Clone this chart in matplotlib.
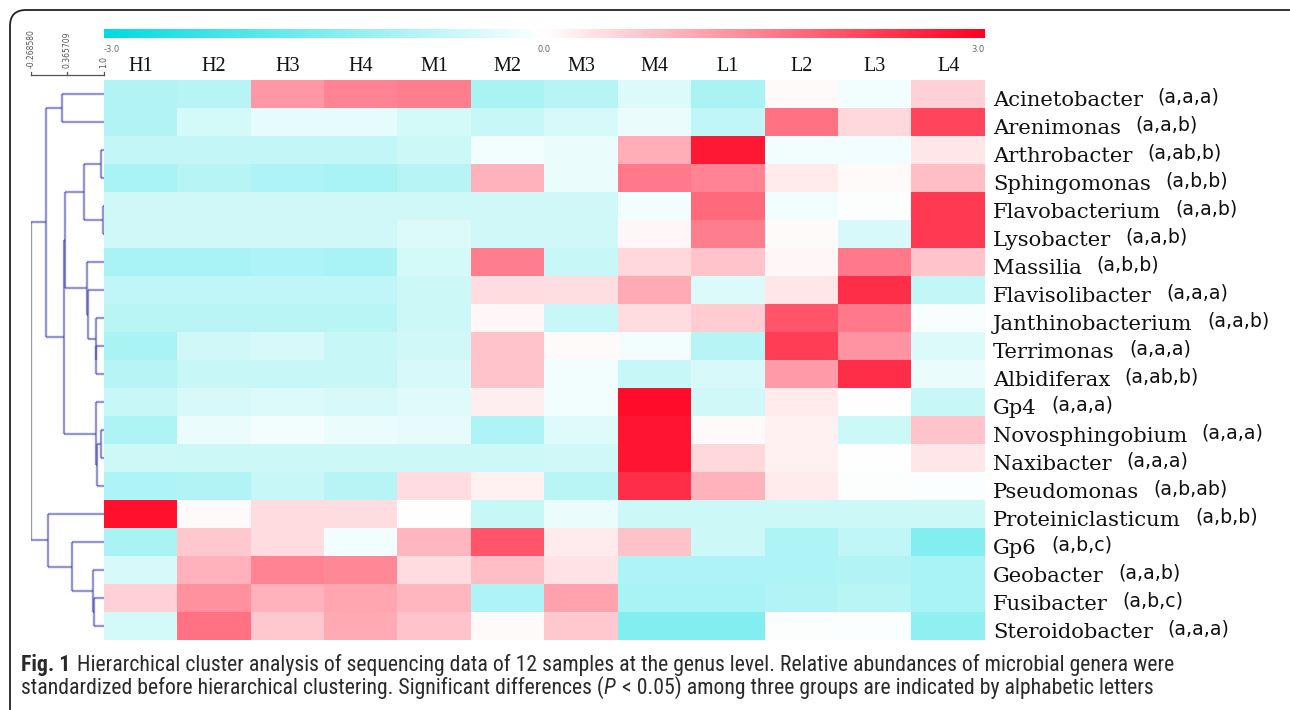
import numpy as np
import matplotlib
matplotlib.use("Agg")
import matplotlib.pyplot as plt
from matplotlib.colors import LinearSegmentedColormap
from matplotlib.collections import LineCollection
from matplotlib.patches import FancyBboxPatch
from matplotlib.transforms import Affine2D
from matplotlib import font_manager

W, H = 1290, 710

# ---- data -------------------------------------------------------------
samples = ["H1", "H2", "H3", "H4", "M1", "M2", "M3", "M4", "L1", "L2", "L3", "L4"]

genera = ["Acinetobacter", "Arenimonas", "Arthrobacter", "Sphingomonas",
          "Flavobacterium", "Lysobacter", "Massilia", "Flavisolibacter",
          "Janthinobacterium", "Terrimonas", "Albidiferax", "Gp4",
          "Novosphingobium", "Naxibacter", "Pseudomonas", "Proteiniclasticum",
          "Gp6", "Geobacter", "Fusibacter", "Steroidobacter"]

letters = ["(a,a,a)", "(a,a,b)", "(a,ab,b)", "(a,b,b)", "(a,a,b)", "(a,a,b)",
           "(a,b,b)", "(a,a,a)", "(a,a,b)", "(a,a,a)", "(a,ab,b)", "(a,a,a)",
           "(a,a,a)", "(a,a,a)", "(a,b,ab)", "(a,b,b)", "(a,b,c)", "(a,a,b)",
           "(a,b,c)", "(a,a,a)"]

# standardized relative abundance (z-score), rows follow `genera`
zscore = np.array([
    [-0.90, -0.85, 1.20, 1.45, 1.50, -1.00, -0.85, -0.40, -1.00, 0.05, -0.15, 0.55],
    [-0.90, -0.50, -0.30, -0.30, -0.50, -0.65, -0.45, -0.25, -0.75, 1.65, 0.45, 2.20],
    [-0.70, -0.70, -0.70, -0.70, -0.60, -0.15, -0.25, 0.95, 2.70, -0.15, -0.15, 0.30],
    [-1.00, -0.85, -0.95, -1.00, -0.85, 0.90, -0.25, 1.55, 1.45, 0.25, 0.05, 0.75],
    [-0.55, -0.55, -0.55, -0.55, -0.55, -0.55, -0.55, -0.15, 1.75, -0.15, -0.03, 2.30],
    [-0.55, -0.55, -0.55, -0.55, -0.40, -0.55, -0.55, 0.10, 1.50, 0.05, -0.45, 2.30],
    [-1.00, -1.00, -0.95, -1.00, -0.50, 1.50, -0.65, 0.45, 0.70, 0.10, 1.55, 0.70],
    [-0.75, -0.75, -0.75, -0.75, -0.60, 0.40, 0.38, 1.00, -0.40, 0.30, 2.45, -0.70],
    [-0.80, -0.80, -0.80, -0.80, -0.60, 0.10, -0.65, 0.40, 0.60, 2.00, 1.55, -0.08],
    [-1.00, -0.55, -0.45, -0.65, -0.55, 0.70, 0.05, -0.12, -0.85, 2.25, 1.25, -0.40],
    [-0.85, -0.65, -0.65, -0.65, -0.45, 0.70, -0.15, -0.65, -0.45, 1.15, 2.45, -0.25],
    [-0.65, -0.45, -0.40, -0.45, -0.38, 0.20, -0.15, 2.85, -0.55, 0.25, 0.00, -0.65],
    [-0.95, -0.25, -0.12, -0.25, -0.28, -0.95, -0.38, 2.75, 0.05, 0.18, -0.60, 0.70],
    [-0.60, -0.60, -0.60, -0.60, -0.60, -0.60, -0.55, 2.75, 0.45, 0.18, 0.02, 0.30],
    [-0.95, -0.90, -0.65, -0.85, 0.42, 0.18, -0.80, 2.45, 0.90, 0.25, -0.03, -0.06],
    [2.80, 0.05, 0.42, 0.42, 0.00, -0.65, -0.25, -0.60, -0.60, -0.60, -0.60, -0.60],
    [-1.00, 0.65, 0.42, -0.15, 0.85, 2.00, 0.25, 0.72, -0.60, -0.95, -0.75, -1.45],
    [-0.45, 0.90, 1.45, 1.40, 0.40, 0.75, 0.35, -0.95, -0.95, -0.95, -0.90, -1.00],
    [0.55, 1.30, 0.90, 1.05, 0.85, -0.95, 1.10, -1.00, -1.00, -0.90, -0.80, -1.00],
    [-0.50, 1.65, 0.65, 1.00, 0.70, 0.05, 0.65, -1.45, -1.45, -0.03, -0.06, -1.30],
])

# row clustering: merge k creates cluster id len(genera)+k
merge_a = [0, 2, 4, 21, 9, 8, 7, 6, 23, 12, 29, 11, 28, 20, 18, 17, 16, 15, 33]
merge_b = [1, 3, 5, 22, 10, 24, 25, 26, 27, 13, 14, 30, 31, 32, 19, 34, 35, 36, 37]
merge_corr = [0.267, 0.946, 0.985, 0.660, 0.866, 0.857, 0.719, 0.696, 0.330,
              0.946, 0.875, 0.866, 0.312, 0.000, 0.830, 0.803, 0.446, 0.035,
              -0.268580]

scale_ticks = [-0.268580, 0.365709, 1.0]
scale_labels = ["-0.268580", "0.365709", "1.0"]
cbar_ticks = [-3.0, 0.0, 3.0]
cbar_labels = ["-3.0", "0.0", "3.0"]

caption_bold = "Fig. 1"
caption_line1 = ("Hierarchical cluster analysis of sequencing data of 12 samples at the "
                 "genus level. Relative abundances of microbial genera were")
caption_line2 = ["standardized before hierarchical clustering. Significant differences (",
                 "P", " < 0.05) among three groups are indicated by alphabetic letters"]

# ---- styling ----------------------------------------------------------
cmap = LinearSegmentedColormap.from_list(
    "cyan_white_red", [(0.0, "#00DCE0"), (0.5, "#FFFFFF"), (1.0, "#FF0020")])
TREE_COLOR = (0.25, 0.25, 0.66, 0.55)
SERIF = "DejaVu Serif"
COLSERIF = "Liberation Serif"


def pick_caption_font():
    names = {f.name for f in font_manager.fontManager.ttflist}
    for cand in ["Liberation Sans Narrow", "Roboto Condensed", "Open Sans Condensed"]:
        if cand in names:
            return {"family": cand}
    for f in font_manager.fontManager.ttflist:
        if f.name == "DejaVu Sans" and str(f.stretch) in ("condensed", "semi-condensed"):
            return {"family": "DejaVu Sans", "stretch": "condensed"}
    return {"family": "Liberation Sans"}


fig = plt.figure(figsize=(W / 100, H / 100), dpi=100)
fig.patch.set_facecolor("white")
px = Affine2D().scale(1 / W, 1 / H) + fig.transFigure  # pixel coords, origin bottom-left


def px_axes(x0, y0, x1, y1):
    ax = fig.add_axes([x0 / W, 1 - y1 / H, (x1 - x0) / W, (y1 - y0) / H])
    ax.set_axis_off()
    return ax


# rounded frame around the figure panel
frame = FancyBboxPatch((10, -30), 1320, H - 10 + 30,
                       boxstyle="round,pad=0,rounding_size=16",
                       transform=px, facecolor="none", edgecolor="#222222",
                       linewidth=1.3)
fig.add_artist(frame)

n_rows, n_cols = zscore.shape

# ---- heatmap ----------------------------------------------------------
hm = px_axes(104, 80, 985, 640)
hm.imshow(zscore, cmap=cmap, vmin=-3, vmax=3, aspect="auto",
          interpolation="nearest", extent=(0, n_cols, n_rows, 0))
hm.set_xlim(0, n_cols)
hm.set_ylim(n_rows, 0)

row_h_px = 560 / n_rows
col_w_px = 881 / n_cols
for j, s in enumerate(samples):
    hm.text(j + 0.5, -9 / row_h_px, s, ha="center", va="baseline",
            family=COLSERIF, fontsize=14.5, color="#111111", clip_on=False)

for i, (g, lt) in enumerate(zip(genera, letters)):
    yb = i + 0.5 + 12.5 / row_h_px
    t = hm.text(n_cols + 8 / col_w_px, yb, g, ha="left", va="baseline",
                family=SERIF, fontsize=15.2, color="#111111", clip_on=False)
    hm.annotate(lt, xy=(1, yb), xycoords=(t, "data"), xytext=(10.5, 2.6),
                textcoords="offset points", ha="left", va="baseline",
                family="DejaVu Sans", fontsize=13.6, color="#111111",
                annotation_clip=False)

# ---- colour bar strip -------------------------------------------------
cb = px_axes(104, 29, 985, 38)
grad = np.linspace(cbar_ticks[0], cbar_ticks[-1], 512)[None, :]
cb.imshow(grad, cmap=cmap, vmin=-3, vmax=3, aspect="auto",
          extent=(cbar_ticks[0], cbar_ticks[-1], 0, 1))
cb.set_xlim(cbar_ticks[0], cbar_ticks[-1])
for v, lab in zip(cbar_ticks, cbar_labels):
    ha = {cbar_ticks[0]: "left", cbar_ticks[-1]: "right"}.get(v, "center")
    cb.text(v, -1.5, lab, ha=ha, va="baseline", fontsize=6,
            color="#666666", clip_on=False)

# ---- dendrogram -------------------------------------------------------
dn = px_axes(31, 80, 104, 640)
dn.set_xlim(scale_ticks[0], scale_ticks[-1])
dn.set_ylim(n_rows, 0)

node_y = {i: i + 0.5 for i in range(n_rows)}
node_x = {i: 1.0 for i in range(n_rows)}
segs = []
for k, (a, b, c) in enumerate(zip(merge_a, merge_b, merge_corr)):
    nid = n_rows + k
    ya, yb_ = node_y[a], node_y[b]
    segs.append([(node_x[a], ya), (c, ya)])
    segs.append([(c, ya), (c, yb_)])
    segs.append([(c, yb_), (node_x[b], yb_)])
    node_y[nid] = (ya + yb_) / 2
    node_x[nid] = c
dn.add_collection(LineCollection(segs, colors=[TREE_COLOR], linewidths=1.7,
                                 capstyle="butt"))

# ---- distance scale ---------------------------------------------------
sc = px_axes(31, 18, 104, 79)
sc.set_xlim(scale_ticks[0], scale_ticks[-1])
sc.set_ylim(79, 18)
sc.plot([scale_ticks[0], scale_ticks[-1]], [75, 75], color="#555555", lw=0.9,
        clip_on=False)
for v, lab in zip(scale_ticks, scale_labels):
    sc.plot([v, v], [75, 71.5], color="#555555", lw=0.9, clip_on=False)
    sc.text(v, 68, lab, rotation=90, ha="center", va="bottom", fontsize=5.5,
            color="#555555", clip_on=False)

# ---- caption ----------------------------------------------------------
cap_font = pick_caption_font()
cap_size = 12.5
cap_color = "#2a2a2a"
fig.canvas.draw()
renderer = fig.canvas.get_renderer()

x0_px, base1, base2 = 21, H - 671, H - 694
t_bold = fig.text(x0_px / W, base1 / H, caption_bold, fontweight="bold",
                  fontsize=cap_size, color=cap_color, va="baseline", **cap_font)
t_l1 = fig.text(0, base1 / H, caption_line1, fontsize=cap_size, color=cap_color,
                va="baseline", **cap_font)
bb = t_bold.get_window_extent(renderer)
t_l1.set_x((bb.x1 + 5) / W)

# scale caption so the first line spans its column width
target_right = 1180
right = t_l1.get_window_extent(renderer).x1
span = right - x0_px
factor = (target_right - x0_px) / span
cap_size *= factor
t_bold.set_fontsize(cap_size)
t_l1.set_fontsize(cap_size)
bb = t_bold.get_window_extent(renderer)
t_l1.set_x((bb.x1 + 5 * factor) / W)

xcur = x0_px
for piece in caption_line2:
    style = "italic" if piece == "P" else "normal"
    t = fig.text(xcur / W, base2 / H, piece, fontsize=cap_size, color=cap_color,
                 style=style, va="baseline", **cap_font)
    xcur = t.get_window_extent(renderer).x1 + (1.5 if piece == "P" else 0)

fig.savefig("out.png", dpi=100, facecolor="white")
